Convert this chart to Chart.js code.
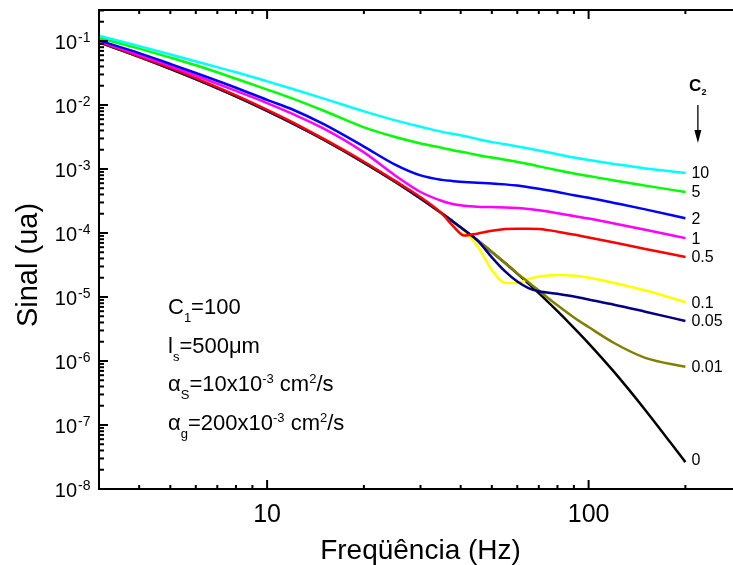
<!DOCTYPE html>
<html><head><meta charset="utf-8">
<style>html,body{margin:0;padding:0;overflow:hidden;background:#fff}canvas{display:block}</style>
<script src="https://cdn.jsdelivr.net/npm/chart.js@4.4.1/dist/chart.umd.min.js"></script>
</head><body>
<canvas id="c" width="742" height="565"></canvas>
<script>
// ---- data ----
const freq = [3,4,5,6,8,10,12,15,20,25,30,35,38,41,45,50,55,60,65,70,80,90,100,120,150,200];
const c2Labels = ['10','5','2','1','0.5','0.1','0.05','0.01','0'];
const sigC10  = [0.120,0.0832,0.0617,0.0479,0.0324,0.0234,0.0178,0.0126,7.94e-3,5.75e-3,4.57e-3,3.80e-3,3.51e-3,3.27e-3,2.95e-3,2.63e-3,2.43e-3,2.24e-3,2.09e-3,1.95e-3,1.70e-3,1.51e-3,1.38e-3,1.20e-3,1.02e-3,8.7e-4];
const sigC5   = [0.112,0.0759,0.0550,0.0417,0.0257,0.0174,0.0126,8.13e-3,4.47e-3,3.16e-3,2.51e-3,2.14e-3,1.95e-3,1.82e-3,1.66e-3,1.51e-3,1.40e-3,1.29e-3,1.20e-3,1.10e-3,9.55e-4,8.51e-4,7.76e-4,6.61e-4,5.50e-4,4.37e-4];
const sigC2   = [0.102,0.0646,0.0437,0.0316,0.0186,0.0120,8.51e-3,5.01e-3,2.24e-3,1.17e-3,7.94e-4,6.76e-4,6.46e-4,6.24e-4,6.10e-4,5.96e-4,5.75e-4,5.50e-4,5.19e-4,4.90e-4,4.37e-4,3.89e-4,3.55e-4,2.95e-4,2.34e-4,1.70e-4];
const sigC1   = [0.100,0.0603,0.0407,0.0288,0.0166,0.0107,7.24e-3,4.27e-3,1.82e-3,7.94e-4,4.37e-4,3.16e-4,2.82e-4,2.66e-4,2.57e-4,2.54e-4,2.51e-4,2.45e-4,2.37e-4,2.26e-4,2.04e-4,1.84e-4,1.68e-4,1.41e-4,1.12e-4,8.32e-5];
const sigC05  = [0.0977,0.0575,0.0380,0.0263,0.0141,8.41e-3,5.37e-3,2.95e-3,1.30e-3,6.53e-4,3.63e-4,2.00e-4,1.26e-4,9.12e-5,9.77e-5,1.08e-4,1.15e-4,1.17e-4,1.17e-4,1.15e-4,1.05e-4,9.44e-5,8.51e-5,7.08e-5,5.62e-5,4.22e-5];
const sigC01  = [0.0955,0.0565,0.0367,0.0253,0.0136,8.07e-3,5.15e-3,2.87e-3,1.26e-3,6.34e-4,3.46e-4,2.01e-4,1.48e-4,1.07e-4,6.31e-5,2.63e-5,1.66e-5,1.66e-5,1.91e-5,2.09e-5,2.21e-5,2.14e-5,2.00e-5,1.66e-5,1.26e-5,8.32e-6];
const sigC005 = [0.0955,0.0565,0.0367,0.0253,0.0136,8.07e-3,5.15e-3,2.87e-3,1.26e-3,6.34e-4,3.46e-4,2.01e-4,1.49e-4,1.11e-4,7.76e-5,4.17e-5,2.51e-5,1.74e-5,1.38e-5,1.23e-5,1.12e-5,1.02e-5,9.12e-6,7.59e-6,5.89e-6,4.22e-6];
const sigC001 = [0.0955,0.0565,0.0367,0.0253,0.0136,8.07e-3,5.15e-3,2.87e-3,1.26e-3,6.34e-4,3.46e-4,2.01e-4,1.49e-4,1.11e-4,7.76e-5,5.06e-5,3.39e-5,2.34e-5,1.70e-5,1.26e-5,7.41e-6,4.79e-6,3.39e-6,1.91e-6,1.12e-6,8.13e-7];
const sigC0   = [0.0955,0.0565,0.0367,0.0253,0.0136,8.07e-3,5.15e-3,2.87e-3,1.26e-3,6.34e-4,3.46e-4,2.01e-4,1.49e-4,1.11e-4,7.76e-5,5.06e-5,3.39e-5,2.32e-5,1.62e-5,1.15e-5,6.01e-6,3.30e-6,1.89e-6,6.76e-7,1.72e-7,2.63e-8];
const xTickValues = [10, 100];
const yTickExponents = [-1,-2,-3,-4,-5,-6,-7,-8];
const xTitle = 'Freqüência (Hz)';
const yTitle = 'Sinal (ua)';
const notes = [
  [['C',0],['1',1],['=100',0]],
  [['l',0],['s',1],['=500\u03bcm',0]],
  [['\u03b1',0],['S',1],['=10x10',0],['-3',2],[' cm',0],['2',2],['/s',0]],
  [['\u03b1',0],['g',1],['=200x10',0],['-3',2],[' cm',0],['2',2],['/s',0]]
];

// ---- styles ----
const series = [sigC10, sigC5, sigC2, sigC1, sigC05, sigC005, sigC001, sigC01, sigC0];
const seriesLabelIdx = [0,1,2,3,4,6,7,5,8];
const colors = ['#00ffff','#00ff00','#0000ff','#ff00ff','#ff0000','#000080','#808000','#ffff00','#000000'];
const FONT = '"Liberation Sans", Arial, Helvetica, sans-serif';

const datasets = series.map((s, i) => ({
  label: c2Labels[seriesLabelIdx[i]],
  data: freq.map((f, k) => ({x: f, y: s[k]})),
  borderColor: colors[i],
  borderWidth: 2.5,
  pointRadius: 0,
  fill: false,
  cubicInterpolationMode: 'monotone'
}));

const decor = {
  id: 'decor',
  afterDraw(chart) {
    const {ctx, chartArea: a, scales: {x, y}} = chart;
    ctx.save();
    ctx.strokeStyle = '#000'; ctx.fillStyle = '#000'; ctx.lineWidth = 2;
    ctx.strokeRect(a.left, a.top, a.right - a.left, a.bottom - a.top);
    const line = (x1, y1, x2, y2) => { ctx.beginPath(); ctx.moveTo(x1, y1); ctx.lineTo(x2, y2); ctx.stroke(); };
    for (let d = 1; d <= 100; d *= 10) for (let m = 1; m <= 9; m++) {
      const v = m * d; if (v < x.min || v > x.max) continue;
      const px = x.getPixelForValue(v), len = m === 1 ? 9 : 4;
      line(px, a.bottom, px, a.bottom - len); line(px, a.top, px, a.top + len);
    }
    for (let e = -8; e <= -1; e++) for (let m = 1; m <= 9; m++) {
      const v = m * Math.pow(10, e); if (v > y.max) continue;
      const py = y.getPixelForValue(v), len = m === 1 ? 9 : 5;
      line(a.left, py, a.left + len, py);
    }
    ctx.font = '25px ' + FONT; ctx.textAlign = 'center'; ctx.textBaseline = 'alphabetic';
    xTickValues.forEach(v => ctx.fillText(String(v), x.getPixelForValue(v), a.bottom + 33));
    yTickExponents.forEach(e => {
      const py = y.getPixelForValue(Math.pow(10, e));
      ctx.font = '20px ' + FONT; ctx.textAlign = 'right'; ctx.fillText('10', 77, py + 8);
      ctx.font = '14px ' + FONT; ctx.textAlign = 'left'; ctx.fillText(String(e), 78, py + 1);
    });
    // y axis title
    ctx.save();
    ctx.translate(37, 265); ctx.rotate(-Math.PI / 2);
    ctx.font = '29px ' + FONT; ctx.textAlign = 'center'; ctx.textBaseline = 'alphabetic';
    ctx.fillText(yTitle, 0, 0);
    ctx.restore();
    ctx.font = '16px ' + FONT; ctx.textAlign = 'left'; ctx.textBaseline = 'middle';
    const xe = x.getPixelForValue(freq[freq.length - 1]);
    series.forEach((s, i) => {
      const py = y.getPixelForValue(s[s.length - 1]);
      ctx.fillText(c2Labels[seriesLabelIdx[i]], xe + 6, py + (i === 8 ? -2 : 1));
    });
    ctx.textBaseline = 'alphabetic';
    ctx.font = 'bold 17px ' + FONT; ctx.fillText('C', xe + 3.5, a.top + 81);
    ctx.font = 'bold 9px ' + FONT; ctx.fillText('2', xe + 16, a.top + 85);
    ctx.lineWidth = 1.3;
    line(xe + 12.5, a.top + 95, xe + 12.5, a.top + 122);
    ctx.beginPath(); ctx.moveTo(xe + 9, a.top + 120); ctx.lineTo(xe + 16, a.top + 120); ctx.lineTo(xe + 12.5, a.top + 133); ctx.closePath(); ctx.fill();
    notes.forEach((segs, li) => {
      let cx = 168; const by = 314 + li * 38.5;
      segs.forEach(([t, kind]) => {
        if (kind === 0) { ctx.font = '22px ' + FONT; ctx.fillText(t, cx, by); }
        else if (kind === 1) { ctx.font = '13px ' + FONT; ctx.fillText(t, cx, by + 8); }
        else { ctx.font = '13px ' + FONT; ctx.fillText(t, cx, by - 8); }
        cx += ctx.measureText(t).width;
      });
    });
    ctx.restore();
  }
};

new Chart(document.getElementById('c'), {
  type: 'line',
  data: {datasets},
  options: {
    responsive: false, animation: false, devicePixelRatio: 1,
    layout: {padding: {top: 10, right: 0, left: 0, bottom: 0}},
    plugins: {legend: {display: false}, tooltip: {enabled: false}},
    scales: {
      x: {
        type: 'logarithmic', min: 3, max: 300,
        grid: {display: false}, border: {display: false},
        ticks: {display: false},
        afterFit: s => { s.height = 76; },
        title: {display: true, text: xTitle, color: '#000', font: {family: FONT, size: 28, lineHeight: 1}, padding: {top: 0, bottom: 0}}
      },
      y: {
        type: 'logarithmic', min: 1e-8, max: 0.305,
        grid: {display: false}, border: {display: false},
        ticks: {display: false},
        afterFit: s => { s.width = 99; },
        title: {display: false, text: yTitle}
      }
    }
  },
  plugins: [decor]
});
</script>
</body></html>
